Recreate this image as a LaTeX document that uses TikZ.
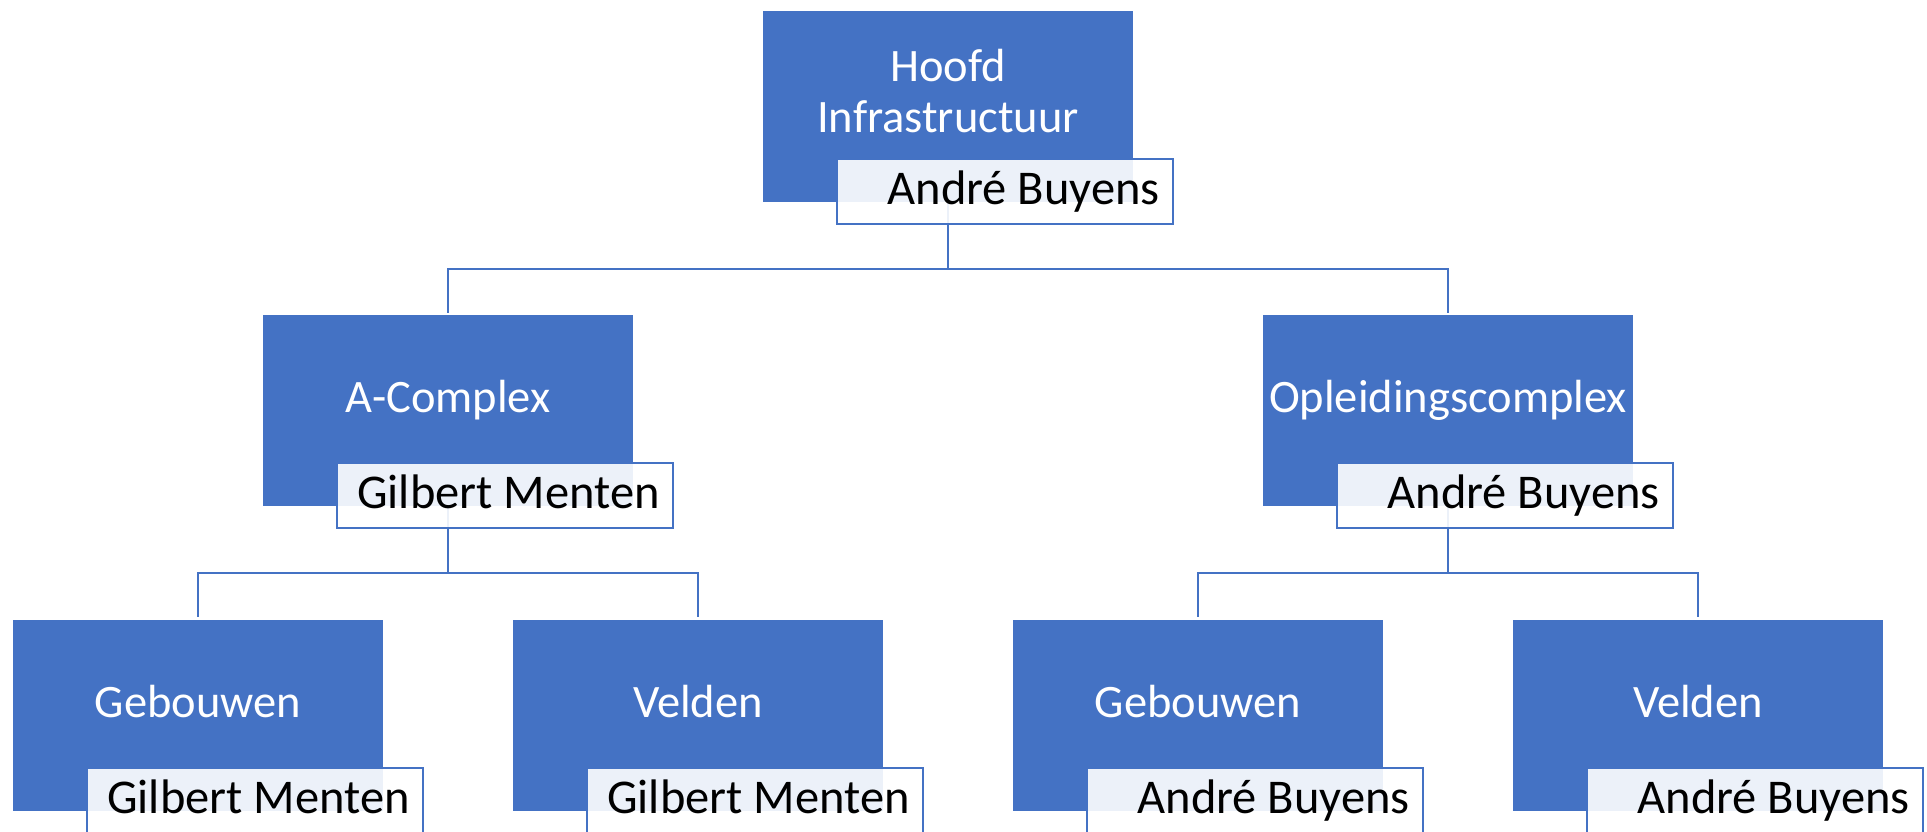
\documentclass[tikz,border=0pt]{standalone}
\usepackage{fontspec}
\setmainfont{Carlito}
\definecolor{accent}{HTML}{4472C4}
\begin{document}
\begin{tikzpicture}[x=1pt,y=-1pt,
  unit/.style={fill=accent, minimum width=370pt, minimum height=191pt, anchor=north west, inner sep=0pt, outer sep=0pt},
  unittext/.style={text=white, font=\fontsize{46.5}{51}\selectfont, align=center, anchor=base, inner sep=0pt},
  namebox/.style={draw=accent, line width=1.5pt, fill=white, fill opacity=0.9, text opacity=1, minimum width=336pt, minimum height=65pt, anchor=north west, inner sep=0pt, outer sep=0pt},
  nametext/.style={text=black, font=\fontsize{48.5}{55}\selectfont, anchor=base east, inner sep=0pt},
  link/.style={draw=accent, line width=2pt}]
\useasboundingbox (0,0) rectangle (1927,832);
% units
\node[unit] (b0) at (763,11) {};
\node[unit] (b1) at (263,315) {};
\node[unit] (b2) at (1263,315) {};
\node[unit] (b3) at (13,620) {};
\node[unit] (b4) at (513,620) {};
\node[unit] (b5) at (1013,620) {};
\node[unit] (b6) at (1513,620) {};
% connectors
\coordinate (bar0) at (0,269);
\coordinate (bar1) at (0,573);
\draw[link] (b0.south) -- (b0.south |- bar0) -| ([yshift=2pt]b1.north);
\draw[link] (b0.south |- bar0) -| ([yshift=2pt]b2.north);
\draw[link] (b1.south) -- (b1.south |- bar1) -| ([yshift=3pt]b3.north);
\draw[link] (b1.south |- bar1) -| ([yshift=3pt]b4.north);
\draw[link] (b2.south) -- (b2.south |- bar1) -| ([yshift=3pt]b5.north);
\draw[link] (b2.south |- bar1) -| ([yshift=3pt]b6.north);
% name boxes
\node[namebox] (n0) at (837,159) {};
\node[namebox] (n1) at (337,463) {};
\node[namebox] (n2) at (1337,463) {};
\node[namebox] (n3) at (87,768) {};
\node[namebox] (n4) at (587,768) {};
\node[namebox] (n5) at (1087,768) {};
\node[namebox] (n6) at (1587,768) {};
% unit texts
\node[unittext] (t0) at ([yshift=-26pt]b0.center) {Hoofd\\Infrastructuur};
\node[unittext] (t1) at ([yshift=-1.5pt]b1.center) {A-Complex};
\node[unittext] (t2) at ([yshift=-1.5pt]b2.center) {Opleidingscomplex};
\node[unittext] (t3) at ([yshift=-1.5pt]b3.center) {Gebouwen};
\node[unittext] (t4) at ([yshift=-1.5pt]b4.center) {Velden};
\node[unittext] (t5) at ([yshift=-1.5pt]b5.center) {Gebouwen};
\node[unittext] (t6) at ([yshift=-1.5pt]b6.center) {Velden};
% names
\node[nametext] (m0) at ([xshift=-13pt,yshift=-45pt]n0.north east) {André Buyens};
\node[nametext] (m1) at ([xshift=-13pt,yshift=-45pt]n1.north east) {Gilbert Menten};
\node[nametext] (m2) at ([xshift=-13pt,yshift=-45pt]n2.north east) {André Buyens};
\node[nametext] (m3) at ([xshift=-13pt,yshift=-45pt]n3.north east) {Gilbert Menten};
\node[nametext] (m4) at ([xshift=-13pt,yshift=-45pt]n4.north east) {Gilbert Menten};
\node[nametext] (m5) at ([xshift=-13pt,yshift=-45pt]n5.north east) {André Buyens};
\node[nametext] (m6) at ([xshift=-13pt,yshift=-45pt]n6.north east) {André Buyens};
\end{tikzpicture}
\end{document}
